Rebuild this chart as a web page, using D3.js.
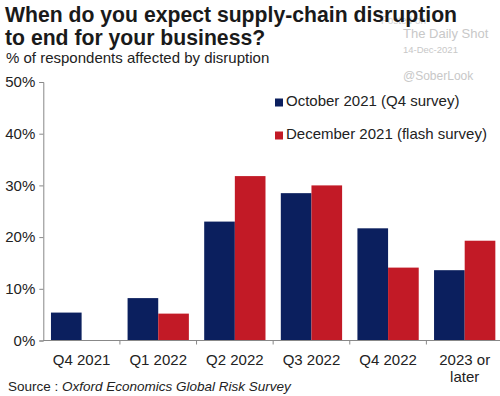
<!DOCTYPE html>
<html>
<head>
<meta charset="utf-8">
<script src="https://cdn.jsdelivr.net/npm/d3@7"></script>
<style>
  html, body { margin: 0; padding: 0; background: #fff; }
  svg { display: block; font-family: "Liberation Sans", Arial, sans-serif; }
</style>
</head>
<body>
<svg id="chart" width="500" height="396"></svg>
<script>
const categories = ["Q4 2021", "Q1 2022", "Q2 2022", "Q3 2022", "Q4 2022", "2023 or later"];
const seriesNames = ["October 2021 (Q4 survey)", "December 2021 (flash survey)"];
const october = [5.4, 8.2, 23.0, 28.5, 21.7, 13.6];
const december = [null, 5.2, 31.8, 30.0, 14.1, 19.3];
const yTicks = [0, 10, 20, 30, 40, 50];
const colors = ["#0b1f5e", "#c21a26"];

const svg = d3.select("#chart");
const margin = { left: 43.3, top: 82, bottom: 340.5 };
const xRight = 503;

const x0 = d3.scaleBand().domain(categories).range([margin.left, xRight]).padding(0);
const x1 = d3.scaleBand().domain([0, 1]).range([0, x0.bandwidth()]).paddingInner(0).paddingOuter(0.25);
const y = d3.scaleLinear().domain([0, 50]).range([margin.bottom, margin.top]);

const series = [october, december];

// Bars
const g = svg.append("g");
categories.forEach((c, i) => {
  series.forEach((s, j) => {
    const v = s[i];
    if (v == null) return;
    g.append("rect")
      .attr("x", x0(c) + x1(j))
      .attr("y", y(v))
      .attr("width", x1.bandwidth())
      .attr("height", y(0) - y(v))
      .attr("fill", colors[j]);
  });
});

// Y axis
const yAxis = svg.append("g").attr("transform", `translate(${margin.left},0)`)
  .call(d3.axisLeft(y).tickValues(yTicks).tickFormat(d => d + "%").tickSize(4).tickPadding(4));
yAxis.select(".domain").attr("stroke", "#888").attr("stroke-width", 1);
yAxis.selectAll(".tick line").attr("stroke", "#888");
yAxis.selectAll(".tick text").attr("font-size", 15).attr("fill", "#222")
  .attr("font-family", "Liberation Sans, Arial, sans-serif");

// X axis line and ticks at category boundaries
svg.append("line").attr("x1", margin.left).attr("x2", 500)
  .attr("y1", y(0)).attr("y2", y(0)).attr("stroke", "#888");
categories.slice(1).forEach(c => {
  svg.append("line").attr("x1", x0(c)).attr("x2", x0(c))
    .attr("y1", y(0)).attr("y2", y(0) + 4).attr("stroke", "#888");
});

// X labels
categories.forEach(c => {
  const cx = x0(c) + x0.bandwidth() / 2;
  const lines = c === "2023 or later" ? ["2023 or", "later"] : [c];
  lines.forEach((t, k) => {
    svg.append("text").attr("x", cx).attr("y", 365 + k * 17)
      .attr("text-anchor", "middle").attr("font-size", 15).attr("fill", "#222").text(t);
  });
});

// Watermark (drawn under title)
svg.append("text").attr("x", 381).attr("y", 24).attr("font-size", 10).attr("fill", "#d4d4d4").text("Posted on");
svg.append("text").attr("x", 403).attr("y", 38).attr("font-size", 13).attr("fill", "#c8c8c8").text("The Daily Shot");
svg.append("text").attr("x", 403).attr("y", 53).attr("font-size", 9.5).attr("fill", "#c8c8c8").text("14-Dec-2021");
svg.append("text").attr("x", 403).attr("y", 80).attr("font-size", 12).attr("fill", "#c8c8c8").text("@SoberLook");

// Title
svg.append("text").attr("x", 5).attr("y", 22).attr("font-size", 21.2).attr("font-weight", "bold")
  .attr("fill", "#1a1a1a").text("When do you expect supply-chain disruption");
svg.append("text").attr("x", 5).attr("y", 45).attr("font-size", 21.2).attr("font-weight", "bold")
  .attr("fill", "#1a1a1a").text("to end for your business?");
svg.append("text").attr("x", 6).attr("y", 63).attr("font-size", 15).attr("fill", "#222")
  .text("% of respondents affected by disruption");

// Legend
seriesNames.forEach((n, j) => {
  const ly = 106 + j * 33;
  svg.append("rect").attr("x", 275).attr("y", ly - 7.5).attr("width", 8).attr("height", 8).attr("fill", colors[j]);
  svg.append("text").attr("x", 286).attr("y", ly).attr("font-size", 15).attr("fill", "#222").text(n);
});

// Source
const src = svg.append("text").attr("x", 8).attr("y", 391).attr("font-size", 13.5).attr("fill", "#222");
src.append("tspan").text("Source : ");
src.append("tspan").attr("font-style", "italic").text("Oxford Economics Global Risk Survey");
</script>
</body>
</html>
